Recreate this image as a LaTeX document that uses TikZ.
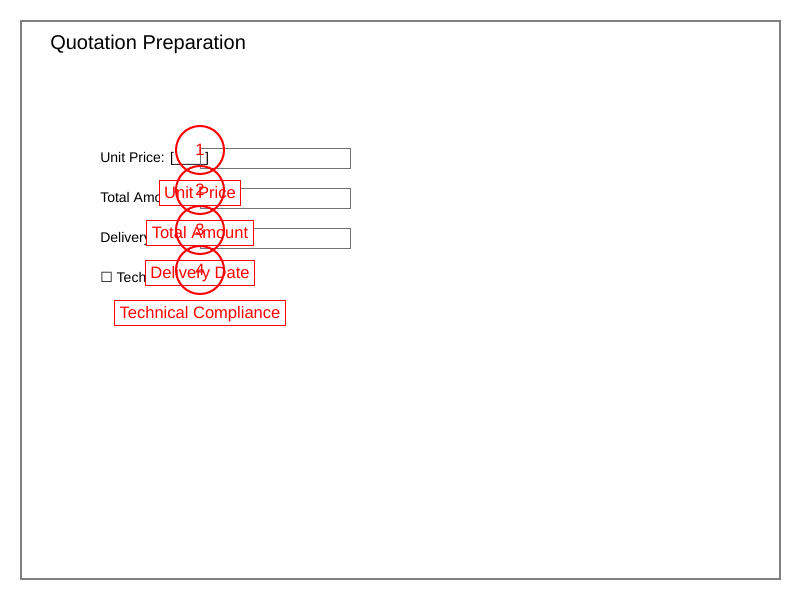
\documentclass[tikz,border=0pt]{standalone}
\usepackage{fontspec}
\setmainfont{Liberation Sans}
\newfontfamily\symfont{DejaVu Sans}
\begin{document}
\begin{tikzpicture}[x=0.75pt,y=-0.75pt,
  frame/.style={draw=black!50,line width=1.5pt},
  rowtext/.style={anchor=west,inner sep=0pt,font=\fontsize{10.5}{12}\selectfont},
  field/.style={draw=black!55,line width=0.75pt},
  redlabel/.style={draw=red,line width=0.75pt,fill=white,text=red,font=\fontsize{12.4}{14}\selectfont,inner xsep=3.75pt,inner ysep=0pt,minimum height=18.75pt,text height=0.82em,text depth=0pt},
  marker/.style={circle,draw=red,line width=1.5pt,minimum size=36pt,inner sep=0pt,text=red,font=\fontsize{12.4}{14}\selectfont}]
\useasboundingbox (0,0) rectangle (800,600);
\draw[frame] (21,21) rectangle (780,579);
\node[anchor=base west,inner sep=0pt,font=\fontsize{15}{18}\selectfont] (title) at (50,49) {Quotation Preparation};
% rows
\node[rowtext] (r1) at (100,158.5) {Unit Price: [\_\_\_\_]};
\node[rowtext] (r2) at (100,198.5) {Total Amount: [\_\_\_\_]};
\node[rowtext] (r3) at (100,238.5) {Delivery Date: [\_\_\_\_]};
\node[rowtext] (r4) at (100,278.5) {{\symfont ☐} Technical Compliance};
% fields
\draw[field] (200,148) rectangle (350,168);
\draw[field] (200,188) rectangle (350,208);
\draw[field] (200,228) rectangle (350,248);
% labels
\node[redlabel] (l1) at (200,193.2) {Unit Price};
\node[redlabel] (l2) at (200,233.2) {Total Amount};
\node[redlabel] (l3) at (200,273.2) {Delivery Date};
\node[redlabel] (l4) at (200,313.2) {Technical Compliance};
% markers
\node[marker] (m1) at (200,150) {1};
\node[marker] (m2) at (200,190) {2};
\node[marker] (m3) at (200,230) {3};
\node[marker] (m4) at (200,270) {4};
\end{tikzpicture}
\end{document}
